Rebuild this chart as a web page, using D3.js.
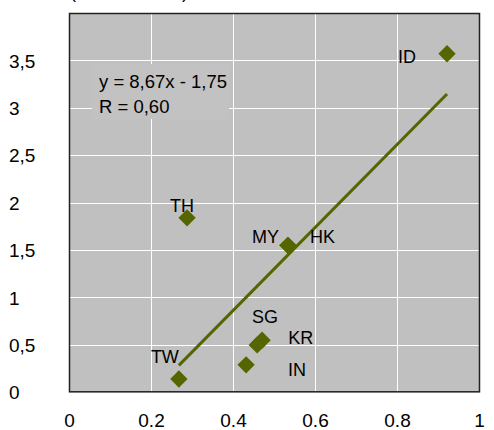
<!DOCTYPE html>
<html>
<head>
<meta charset="utf-8">
<script src="https://cdn.jsdelivr.net/npm/d3@7"></script>
<style>
  body { margin: 0; background: #fff; }
  text { font-family: "Liberation Sans", Arial, sans-serif; fill: #000; }
</style>
</head>
<body>
<div id="chart"></div>
<script>
// data
var countries = ["ID", "TH", "MY", "HK", "SG", "KR", "IN", "TW"];
var xValues = [0.922, 0.288, 0.534, 0.534, 0.471, 0.459, 0.432, 0.268];
var yValues = [3.57, 1.84, 1.55, 1.55, 0.55, 0.50, 0.29, 0.14];
var xTicks = [0, 0.2, 0.4, 0.6, 0.8, 1];
var xTickLabels = ["0", "0.2", "0.4", "0.6", "0.8", "1"];
var yTicks = [0, 0.5, 1, 1.5, 2, 2.5, 3, 3.5];
var yTickLabels = ["0", "0,5", "1", "1,5", "2", "2,5", "3", "3,5"];
var equationLines = ["y = 8,67x - 1,75", "R = 0,60"];
var axisTitle = "(% of GDP)";

// label placement relative to each marker (layout only)
var labelOffsets = {
    ID: [-49, 9], TH: [-17, -6], MY: [-36, -2], HK: [22, -2],
    SG: [-10, -17], KR: [31, -1], IN: [42, 11], TW: [-28, -16]
};

var W = 494, H = 430;
var margin = { top: 13, right: 14, bottom: 38, left: 69 };
var olive = "#556600";

var svg = d3.select("#chart")
    .append("svg")
    .attr("width", W)
    .attr("height", H);

var x = d3.scaleLinear().domain([0, 1]).range([margin.left, W - margin.right - 1]);
var y = d3.scaleLinear().domain([0, 4]).range([H - margin.bottom + 0.3, margin.top]);

// plot background
svg.append("rect")
    .attr("x", x(0)).attr("y", y(4))
    .attr("width", x(1) - x(0) + 1).attr("height", y(0) - y(4))
    .attr("fill", "#c0c0c0");

// grid
svg.append("g").selectAll("line")
    .data(xTicks.slice(1, -1))
    .enter().append("line")
    .attr("x1", function (d) { return Math.round(x(d)) + 0.5; })
    .attr("x2", function (d) { return Math.round(x(d)) + 0.5; })
    .attr("y1", y(4)).attr("y2", y(0))
    .attr("stroke", "#fff").attr("stroke-width", 1);
svg.append("g").selectAll("line")
    .data(yTicks.slice(1))
    .enter().append("line")
    .attr("x1", x(0)).attr("x2", x(1) + 1)
    .attr("y1", function (d) { return Math.round(y(d)) + 0.5; })
    .attr("y2", function (d) { return Math.round(y(d)) + 0.5; })
    .attr("stroke", "#fff").attr("stroke-width", 1);

// equation box covers the grid
var eqBox = svg.append("g").attr("transform", "translate(92,64)");
eqBox.append("rect").attr("width", 137).attr("height", 55).attr("fill", "#c2c2c2");
eqBox.selectAll("text")
    .data(equationLines)
    .enter().append("text")
    .attr("x", 7)
    .attr("y", function (d, i) { return 24 + i * 25; })
    .style("font-size", "18.5px")
    .text(function (d) { return d; });

// plot frame
svg.append("rect")
    .attr("x", x(0) + 0.5).attr("y", y(4) + 0.5)
    .attr("width", x(1) - x(0)).attr("height", y(0) - y(4) - 1)
    .attr("fill", "none").attr("stroke", "#222").attr("stroke-width", 1.5);

// least squares trend line over the data range
var mx = d3.mean(xValues), my = d3.mean(yValues);
var sxy = d3.sum(xValues, function (d, i) { return (d - mx) * (yValues[i] - my); });
var sxx = d3.sum(xValues, function (d) { return (d - mx) * (d - mx); });
var slope = sxy / sxx, intercept = my - slope * mx;
var xr = d3.extent(xValues);
svg.append("line")
    .attr("x1", x(xr[0])).attr("y1", y(intercept + slope * xr[0]))
    .attr("x2", x(xr[1])).attr("y2", y(intercept + slope * xr[1]))
    .attr("stroke", olive).attr("stroke-width", 3);

// markers
var diamond = d3.symbol().type(d3.symbolSquare).size(150);
svg.append("g").selectAll("path")
    .data(countries)
    .enter().append("path")
    .attr("d", diamond)
    .attr("transform", function (d, i) {
        return "translate(" + x(xValues[i]) + "," + y(yValues[i]) + ") rotate(45)";
    })
    .attr("fill", olive);

// point labels
svg.append("g").selectAll("text")
    .data(countries)
    .enter().append("text")
    .attr("x", function (d, i) { return x(xValues[i]) + labelOffsets[d][0]; })
    .attr("y", function (d, i) { return y(yValues[i]) + labelOffsets[d][1]; })
    .style("font-size", "18px")
    .text(function (d) { return d; });

// x axis labels
var xAxis = svg.append("g")
    .attr("transform", "translate(0," + y(0) + ")")
    .call(d3.axisBottom(x).tickValues(xTicks).tickSize(0)
        .tickFormat(function (d, i) { return xTickLabels[i]; }));
xAxis.select(".domain").remove();
xAxis.selectAll("text")
    .attr("y", 35).attr("dy", null)
    .style("font-size", "19px").style("font-family", "Liberation Sans, Arial, sans-serif")
    .attr("fill", "#000");

// y axis labels, left aligned
var yAxis = svg.append("g")
    .attr("transform", "translate(" + x(0) + ",0)")
    .call(d3.axisLeft(y).tickValues(yTicks).tickSize(0)
        .tickFormat(function (d, i) { return yTickLabels[i]; }));
yAxis.select(".domain").remove();
yAxis.selectAll("text")
    .attr("x", 9 - x(0)).attr("text-anchor", "start").attr("dy", "0.35em")
    .style("font-size", "19px").style("font-family", "Liberation Sans, Arial, sans-serif")
    .attr("fill", "#000");

// axis title, mostly cut off at the top edge (as in the source image)
svg.append("text")
    .attr("x", 70).attr("y", -2)
    .attr("textLength", 118)
    .style("font-size", "18px")
    .text(axisTitle);
</script>
</body>
</html>
